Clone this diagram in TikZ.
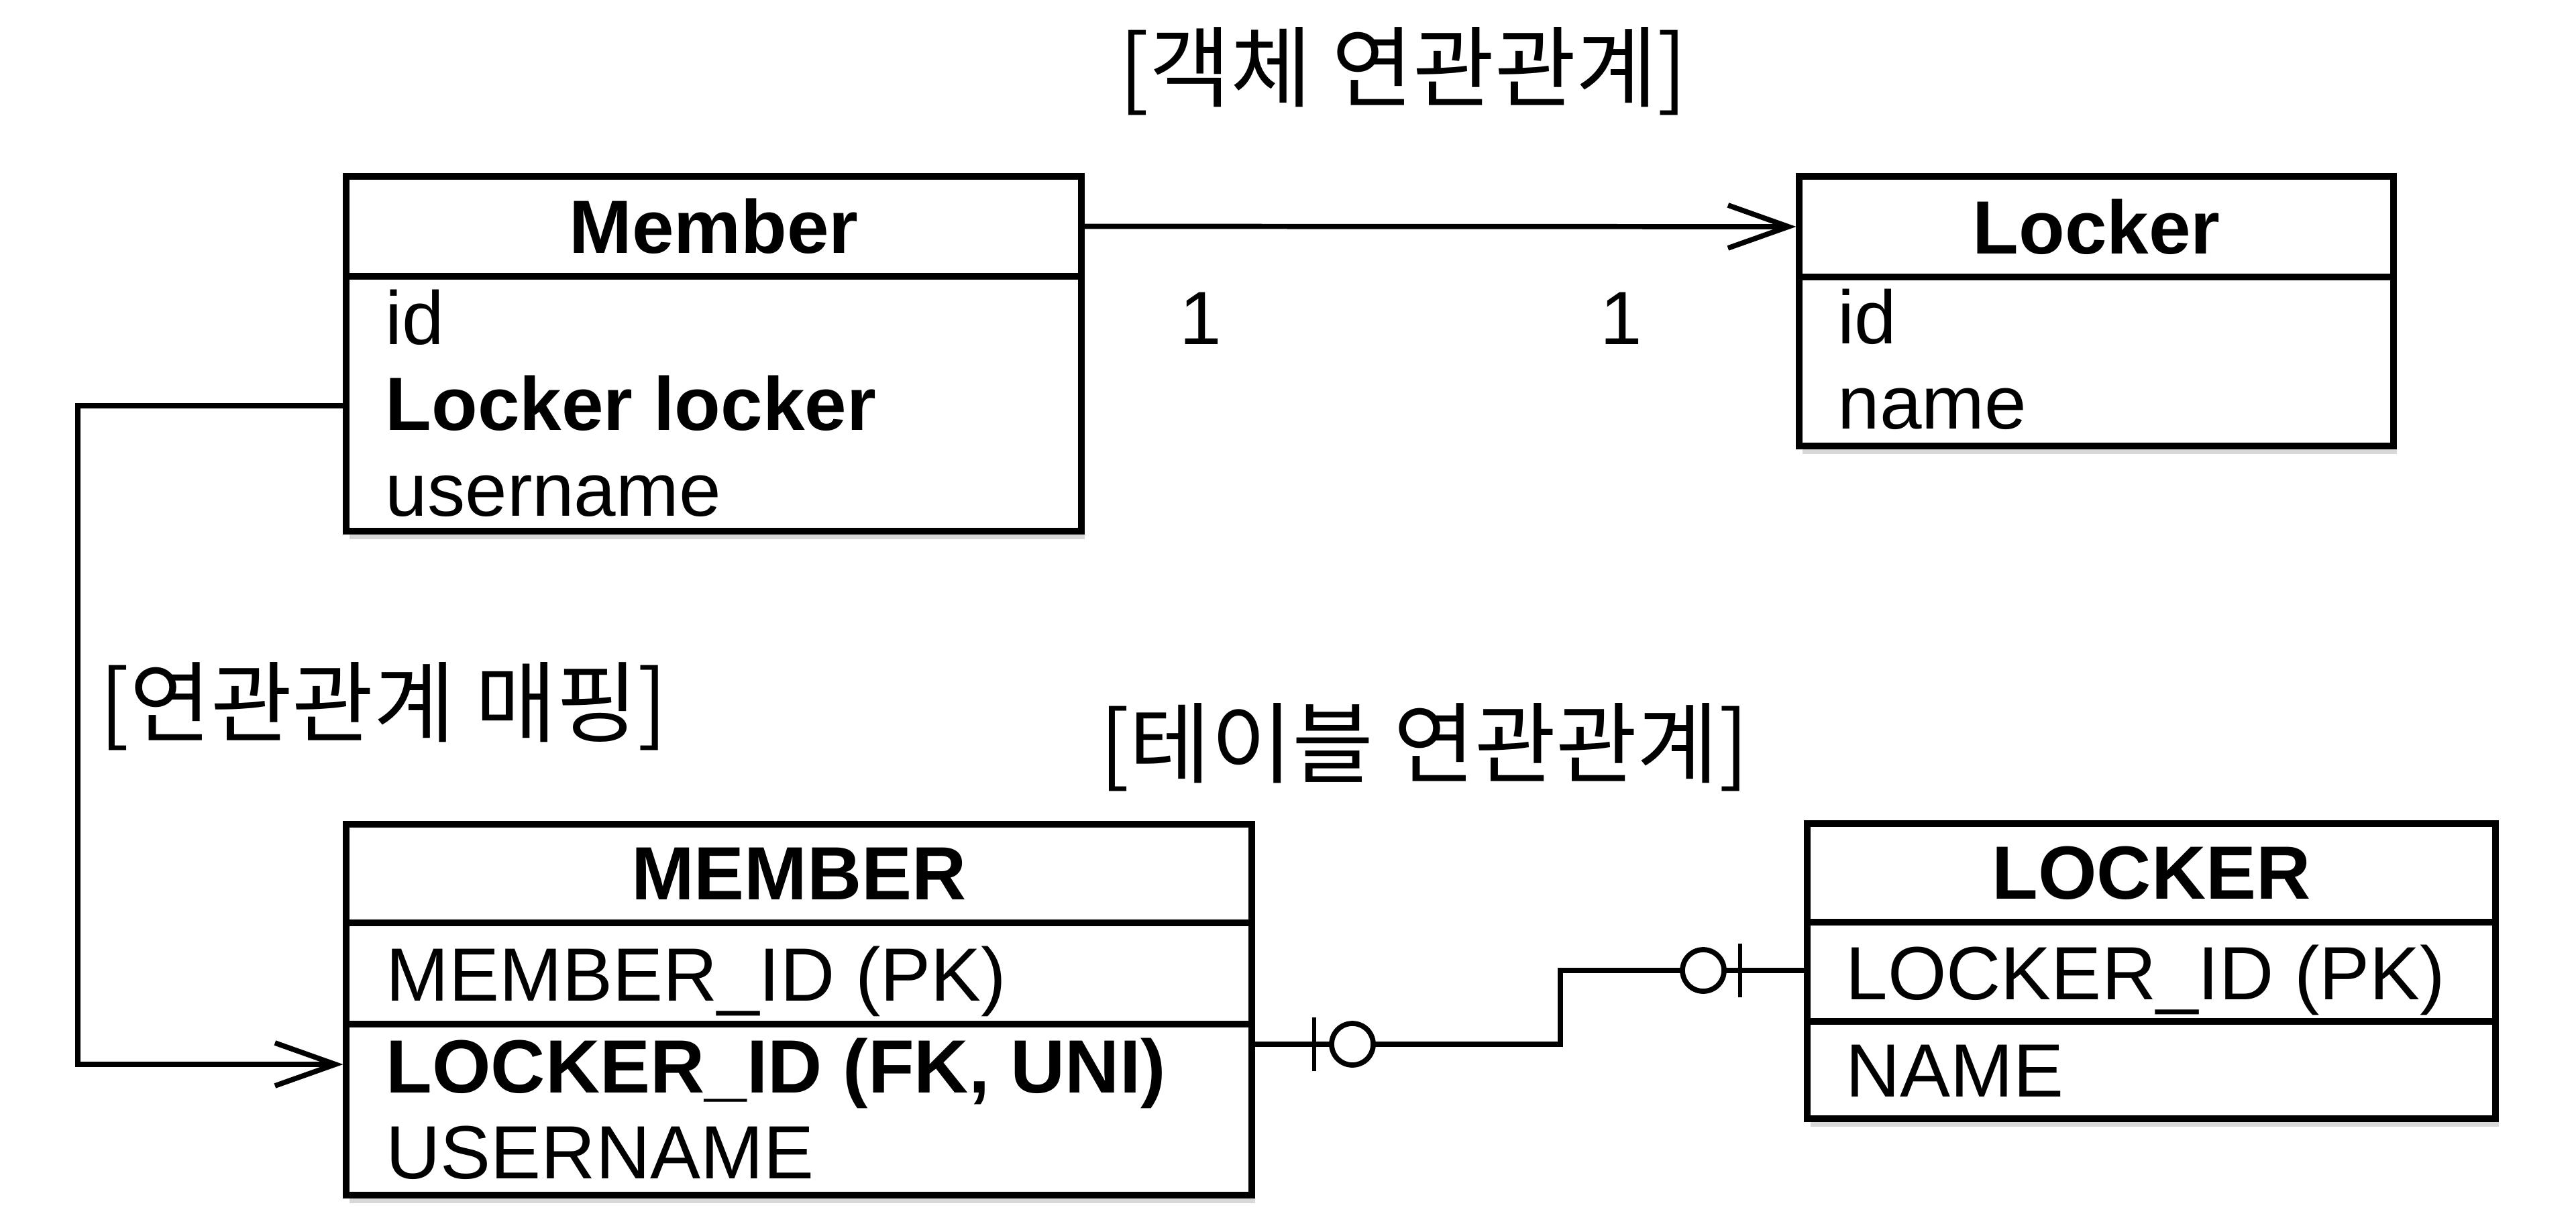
\documentclass[tikz,border=0pt]{standalone}
\usepackage{fontspec}
\setmainfont{Liberation Sans}
\newfontfamily\krfont{Noto Sans CJK KR}
\usepackage{tikz}
\usetikzlibrary{positioning, shadows, calc, arrows.meta}
\definecolor{umlLine}{HTML}{000000}
\definecolor{umlShadow}{HTML}{7F7F7F}

\begin{document}
\begin{tikzpicture}[
  x=1cm, y=-1cm,
  box/.style={draw=umlLine, line width=2.6pt, fill=white, inner sep=0pt},
  body/.style={box, drop shadow={opacity=0.3, fill=umlShadow, shadow xshift=0.05cm, shadow yshift=-0.12cm}},
  head/.style={box, font=\fontsize{32}{38}\selectfont\bfseries},
  row/.style={anchor=base west, inner sep=0pt, font=\fontsize{32}{38}\selectfont},
  key/.style={row, font=\fontsize{32}{38}\selectfont\bfseries},
  note/.style={font=\krfont\fontsize{37.5}{44}\selectfont},
  arr/.style={-{Straight Barb[length=0.9cm, width=0.64cm]}, line width=2.2pt},
  rel/.style={line width=2.2pt, draw=umlLine},
  ring/.style={draw=umlLine, circle, line width=2.2pt, fill=white, minimum size=0.62cm, inner sep=0pt}
]
\useasboundingbox (0,0) rectangle (38.4,18.34);

\node[body, minimum width=10.96cm, minimum height=3.80cm] (clsMemberBody) at (10.64,6.02) {};
\node[head, minimum width=10.96cm, minimum height=1.49cm] (clsMember) at (10.64,3.375) {Member};
\node[row] (clsMemberId) at (5.74,5.14) {id};
\node[key] (clsMemberRef) at (5.74,6.42) {Locker locker};
\node[row] (clsMemberName) at (5.74,7.70) {username};

\node[body, minimum width=8.86cm, minimum height=2.52cm] (clsLockerBody) at (31.25,5.39) {};
\node[head, minimum width=8.86cm, minimum height=1.50cm] (clsLocker) at (31.25,3.38) {Locker};
\node[row] (clsLockerId) at (27.39,5.13) {id};
\node[row] (clsLockerName) at (27.39,6.40) {name};

\node[body, minimum width=13.50cm, minimum height=4.06cm] (tblMemberBody) at (11.91,15.79) {};
\node[head, minimum width=13.50cm, minimum height=1.47cm] (tblMember) at (11.91,13.025) {MEMBER};
\draw[rel, line width=2.6pt] (tblMemberBody.west |- 0,15.27) -- (tblMemberBody.east |- 0,15.27);
\node[row] (tblMemberId) at (5.75,14.92) {MEMBER\_ID (PK)};
\node[key] (tblMemberFk) at (5.75,16.29) {LOCKER\_ID (FK, UNI)};
\node[row] (tblMemberName) at (5.75,17.57) {USERNAME};

\node[body, minimum width=10.26cm, minimum height=2.93cm] (tblLockerBody) at (32.07,15.215) {};
\node[head, minimum width=10.26cm, minimum height=1.47cm] (tblLocker) at (32.07,13.015) {LOCKER};
\draw[rel, line width=2.6pt] (tblLockerBody.west |- 0,15.23) -- (tblLockerBody.east |- 0,15.23);
\node[row] (tblLockerId) at (27.51,14.90) {LOCKER\_ID (PK)};
\node[row] (tblLockerName) at (27.51,16.35) {NAME};

\draw[arr] (clsMember.east) -- (clsLocker.west);
\node[row, anchor=base] (multMember) at (17.90,5.14) {1};
\node[row, anchor=base] (multLocker) at (24.17,5.14) {1};

\coordinate (mapTop) at (1.16,6.05);
\coordinate (mapLow) at (1.16,15.87);
\draw[arr, line join=miter] (clsMemberBody.west |- mapTop) -- (mapTop) -- (mapLow) -- (tblMemberBody.west |- mapLow);

\coordinate (erLow) at (23.26,15.57);
\coordinate (erHigh) at (23.26,14.47);
\draw[rel, line join=miter] (tblMemberBody.east |- erLow) -- (erLow) -- (erHigh) -- (tblLockerBody.west |- erHigh);
\draw[rel, line width=1.5pt] (19.59,15.17) -- (19.59,15.97);
\node[ring] (ringMember) at (20.16,15.57) {};
\draw[rel, line width=1.5pt] (25.94,14.07) -- (25.94,14.87);
\node[ring] (ringLocker) at (25.39,14.47) {};

\node[note] (titleObject) at (20.92,1.06) {[객체 연관관계]};
\node[note] (titleTable) at (21.23,11.14) {[테이블 연관관계]};
\node[note] (titleMapping) at (5.72,10.53) {[연관관계 매핑]};
\end{tikzpicture}
\end{document}
